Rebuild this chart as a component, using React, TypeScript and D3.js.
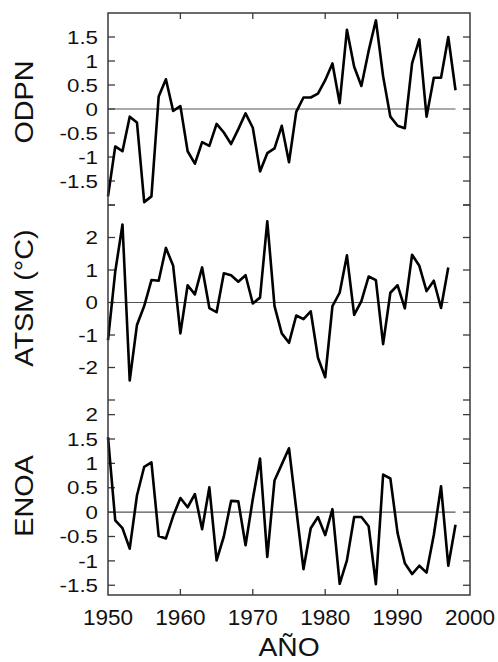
import React from "react";
import * as d3 from "d3";

const years = d3.range(1950, 1999);

const odpn = [
  -1.82, -0.78, -0.88, -0.16, -0.28, -1.94, -1.82, 0.26, 0.62, -0.04,
  0.06, -0.88, -1.14, -0.69, -0.77, -0.31, -0.49, -0.73, -0.42, -0.09,
  -0.39, -1.3, -0.92, -0.82, -0.35, -1.11, -0.06, 0.24, 0.24, 0.32,
  0.6, 0.95, 0.12, 1.65, 0.88, 0.48, 1.21, 1.85, 0.68, -0.16,
  -0.35, -0.4, 0.95, 1.45, -0.16, 0.65, 0.65, 1.5, 0.39,
];

const atsm = [
  -1.16, 0.95, 2.4, -2.4, -0.69, -0.11, 0.69, 0.67, 1.68, 1.13,
  -0.95, 0.53, 0.25, 1.08, -0.17, -0.3, 0.9, 0.84, 0.64, 0.84,
  -0.03, 0.15, 2.5, -0.11, -0.95, -1.24, -0.4, -0.51, -0.27, -1.7,
  -2.3, -0.11, 0.3, 1.45, -0.38, 0.04, 0.8, 0.69, -1.28, 0.3,
  0.53, -0.18, 1.47, 1.13, 0.35, 0.67, -0.17, 1.08,
];

const enoa = [
  1.54, -0.17, -0.33, -0.75, 0.34, 0.93, 1.02, -0.49, -0.54, -0.08,
  0.29, 0.1, 0.37, -0.35, 0.51, -0.99, -0.5, 0.23, 0.22, -0.68,
  0.27, 1.1, -0.92, 0.65, 0.98, 1.31, 0.06, -1.17, -0.33, -0.1,
  -0.47, 0.06, -1.47, -0.99, -0.1, -0.1, -0.29, -1.48, 0.77, 0.69,
  -0.43, -1.05, -1.27, -1.1, -1.24, -0.47, 0.53, -1.1, -0.26,
];

const xTicks = [1950, 1960, 1970, 1980, 1990, 2000];

const panels = [
  { name: "ODPN", values: odpn, domain: [-2, 2], range: [205, 13], ticks: [-2, -1.5, -1, -0.5, 0, 0.5, 1, 1.5], labels: ["-1.5", "-1", "-0.5", "0", "0.5", "1", "1.5"], labelY: 102 },
  { name: "ATSM (°C)", values: atsm, domain: [-3, 3], range: [400, 205], ticks: [-3, -2, -1, 0, 1, 2, 3], labels: ["-2", "-1", "0", "1", "2"], labelY: 298 },
  { name: "ENOA", values: enoa, domain: [-1.7, 2.3], range: [595, 400], ticks: [-1.5, -1, -0.5, 0, 0.5, 1, 1.5, 2], labels: ["-1.5", "-1", "-0.5", "0", "0.5", "1", "1.5", "2"], labelY: 496 },
];

const W = 498;
const H = 662;
const left = 108;
const right = 470;
const top = 13;
const bottom = 595;
const font = "'Liberation Sans', Arial, Helvetica, sans-serif";
const frameColor = "#3a3a3a";

export default function App() {
  const x = d3.scaleLinear().domain([1950, 2000]).range([left, right]);
  return (
    <svg width={W} height={H} style={{ position: "absolute", left: 0, top: 0, background: "#fff" }}>
      <rect x={0} y={0} width={W} height={H} fill="#fff" />
      {panels.map((p, pi) => {
        const y = d3.scaleLinear().domain(p.domain).range(p.range);
        const n = p.values.length;
        const line = d3
          .line<number>()
          .x((_, i) => x(years[i]))
          .y((v) => y(v));
        return (
          <g key={pi}>
            <line x1={left} x2={x(years[n - 1])} y1={y(0)} y2={y(0)} stroke="#555" strokeWidth={1.2} />
            {p.ticks.map((t) => (
              <g key={t}>
                <line x1={left} x2={left + 7} y1={y(t)} y2={y(t)} stroke={frameColor} strokeWidth={1.3} />
                <line x1={right - 7} x2={right} y1={y(t)} y2={y(t)} stroke={frameColor} strokeWidth={1.3} />
              </g>
            ))}
            {p.labels.map((l) => (
              <text
                key={l}
                transform={`translate(98,${y(parseFloat(l))}) scale(1.2,1)`}
                textAnchor="end"
                dy="0.36em"
                fontFamily={font}
                fontSize={18.6}
                fill="#111"
              >
                {l}
              </text>
            ))}
            <path d={line(p.values) || ""} fill="none" stroke="#000" strokeWidth={2.6} strokeLinejoin="round" />
            <text
              transform={`translate(33,${p.labelY}) rotate(-90) scale(1.13,1)`}
              textAnchor="middle"
              fontFamily={font}
              fontSize={25.5}
              fill="#111"
            >
              {p.name}
            </text>
          </g>
        );
      })}
      <rect x={left} y={top} width={right - left} height={bottom - top} fill="none" stroke={frameColor} strokeWidth={1.5} />
      {xTicks.slice(1, -1).map((t) => (
        <g key={t}>
          <line x1={x(t)} x2={x(t)} y1={top} y2={top + 6} stroke={frameColor} strokeWidth={1.3} />
          <line x1={x(t)} x2={x(t)} y1={bottom} y2={bottom - 6} stroke={frameColor} strokeWidth={1.3} />
        </g>
      ))}
      {xTicks.map((t) => (
        <text key={t} x={x(t)} y={625} textAnchor="middle" fontFamily={font} fontSize={22.5} fill="#111">
          {t}
        </text>
      ))}
      <text transform={`translate(${(left + right) / 2},656) scale(1.13,1)`} textAnchor="middle" fontFamily={font} fontSize={25} fill="#111">
        AÑO
      </text>
    </svg>
  );
}
